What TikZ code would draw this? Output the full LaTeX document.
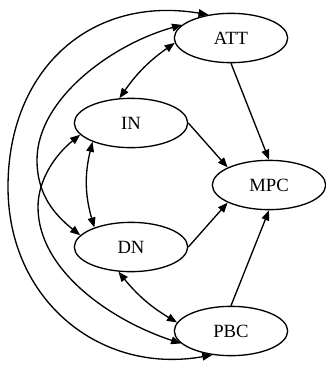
\documentclass[tikz,border=0pt]{standalone}
\usepackage{fontspec}
\setmainfont{Liberation Serif}
\usetikzlibrary{shapes.geometric,arrows.meta}
\begin{document}
\begin{tikzpicture}[x=0.75pt,y=-0.75pt,
  stnode/.style={draw,ellipse,line width=1pt,minimum width=85pt,minimum height=37pt,inner sep=0pt,font=\fontsize{14}{16}\selectfont},
  tip/.tip={Triangle[length=7.5pt,width=5.8pt]},
  link/.style={line width=1pt,-tip},
  dlink/.style={line width=1pt,tip-tip}]
\useasboundingbox (0,0) rectangle (326,369);
\node[stnode] (ATT) at (231,38) {ATT};
\node[stnode] (IN)  at (131,123) {IN};
\node[stnode] (MPC) at (269,185) {MPC};
\node[stnode] (DN)  at (131,247) {DN};
\node[stnode] (PBC) at (231,331) {PBC};
% to MPC
\draw[link] (ATT.south) -- (MPC.north);
\draw[link] (IN.east) -- (MPC.157);
\draw[link] (DN.east) -- (MPC.203);
\draw[link] (PBC.north) -- (MPC.south);
% short bidirectional
\draw[dlink] (ATT.185) to[bend right=10] (IN.115);
\draw[dlink] (IN.206) to[bend right=15] (DN.152);
\draw[dlink] (DN.243) to[bend right=10] (PBC.171);
% long curves
\draw[dlink] (ATT.134) .. controls (90,-5) and (8,70) .. (8,187)
  .. controls (8,300) and (100,375) .. (PBC.232);
\draw[dlink] (ATT.165) .. controls (110,45) and (37,100) .. (37,160)
  .. controls (37,195) and (55,215) .. (DN.167);
\draw[dlink] (IN.193) .. controls (55,155) and (38,180) .. (38,207)
  .. controls (38,270) and (110,320) .. (PBC.194);
\end{tikzpicture}
\end{document}
